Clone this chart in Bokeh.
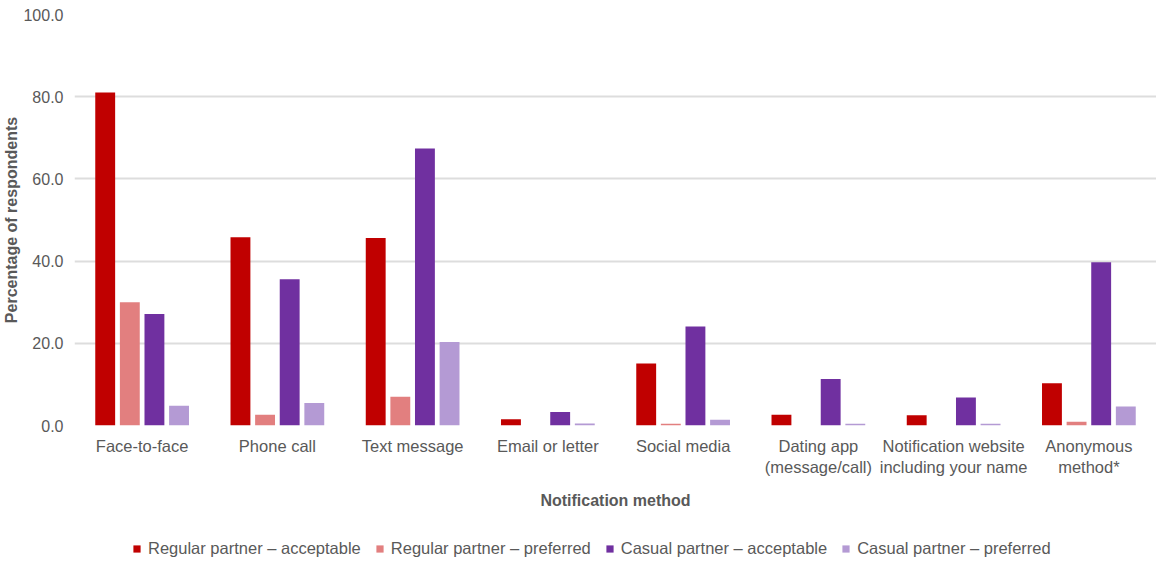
from bokeh.plotting import figure
from bokeh.layouts import column
from bokeh.models import ColumnDataSource, FactorRange, Range1d, Legend, LegendItem, PrintfTickFormatter, FixedTicker
from bokeh.transform import dodge
from bokeh.embed import file_html
from bokeh.resources import INLINE

categories = ["Face-to-face", "Phone call", "Text message", "Email or letter", "Social media",
              "Dating app\n(message/call)", "Notification website\nincluding your name", "Anonymous\nmethod*"]
series_names = ["Regular partner \u2013 acceptable", "Regular partner \u2013 preferred",
                "Casual partner \u2013 acceptable", "Casual partner \u2013 preferred"]
reg_acc = [81.0, 45.8, 45.6, 1.5, 15.1, 2.6, 2.5, 10.3]
reg_pref = [30.0, 2.6, 7.0, 0.0, 0.4, 0.0, 0.0, 0.9]
cas_acc = [27.1, 35.6, 67.4, 3.3, 24.1, 11.3, 6.8, 39.7]
cas_pref = [4.8, 5.5, 20.3, 0.5, 1.4, 0.4, 0.4, 4.6]
y_ticks = [0, 20, 40, 60, 80, 100]

colors = ["#C00000", "#E27F7F", "#7030A0", "#B49AD4"]
FONT = "Liberation Sans"
GRAY = "#595959"

src = ColumnDataSource(dict(cat=categories, reg_acc=reg_acc, reg_pref=reg_pref,
                            cas_acc=cas_acc, cas_pref=cas_pref))
x_range = FactorRange(factors=categories)

p = figure(x_range=x_range, y_range=Range1d(0, 100),
           frame_width=1082, frame_height=411, output_backend="svg", toolbar_location=None,
           min_border_left=66, min_border_right=0, min_border_top=14, min_border_bottom=0)
p.outline_line_color = None
p.background_fill_color = "white"
p.border_fill_color = "white"

offsets = [-0.273, -0.091, 0.091, 0.273]
cols = ["reg_acc", "reg_pref", "cas_acc", "cas_pref"]
for col, off, c in zip(cols, offsets, colors):
    p.vbar(x=dodge("cat", off, range=x_range), top=col, width=0.147, bottom=0,
           source=src, fill_color=c, line_color=None)

p.xgrid.grid_line_color = None
p.ygrid.grid_line_color = "#DDDDDD"
p.ygrid.grid_line_width = 2
p.yaxis.ticker = FixedTicker(ticks=y_ticks)
p.yaxis.formatter = PrintfTickFormatter(format="%.1f")
p.yaxis.axis_line_color = None
p.yaxis.major_tick_line_color = None
p.yaxis.minor_tick_line_color = None
p.yaxis.major_label_text_font = FONT
p.yaxis.major_label_text_font_size = "16px"
p.yaxis.major_label_text_color = GRAY
p.yaxis.major_label_standoff = 5
p.yaxis.axis_label = "Percentage of respondents"
p.yaxis.axis_label_text_font = FONT
p.yaxis.axis_label_text_font_size = "16px"
p.yaxis.axis_label_text_font_style = "bold"
p.yaxis.axis_label_text_color = GRAY
p.yaxis.axis_label_standoff = 0

p.xaxis.axis_line_color = None
p.xaxis.major_tick_line_color = None
p.xaxis.minor_tick_line_color = None
p.xaxis.major_label_text_font = FONT
p.xaxis.major_label_text_font_size = "16.5px"
p.xaxis.major_label_text_color = GRAY
p.xaxis.major_label_standoff = 5
p.xaxis.axis_label = "Notification method"
p.xaxis.axis_label_text_font = FONT
p.xaxis.axis_label_text_font_size = "16px"
p.xaxis.axis_label_text_font_style = "bold"
p.xaxis.axis_label_text_color = GRAY
p.xaxis.axis_label_standoff = 13

# legend strip below the chart
p2 = figure(x_range=x_range, y_range=Range1d(0, 100), width=1148, height=46,
            output_backend="svg", toolbar_location=None,
            x_axis_location=None, y_axis_location=None, min_border=0)
p2.outline_line_color = None
p2.grid.grid_line_color = None
p2.border_fill_color = "white"
leg_renderers = []
for col, off, c in zip(cols, offsets, colors):
    r = p2.vbar(x=dodge("cat", off, range=x_range), top=col, width=0.147, bottom=0,
                source=src, fill_color=c, line_color=None, visible=False)
    leg_renderers.append(r)

legend = Legend(items=[LegendItem(label=n, renderers=[r]) for n, r in zip(series_names, leg_renderers)],
                orientation="horizontal", location=(58, 0), padding=0, margin=0,
                border_line_color=None, background_fill_alpha=0,
                label_text_font=FONT, label_text_font_size="16.5px", label_text_color=GRAY,
                glyph_width=9, glyph_height=9, label_standoff=7, spacing=14)
p2.add_layout(legend)

layout = column(p, p2, spacing=0)
open("out.html", "w").write(file_html(layout, INLINE))
